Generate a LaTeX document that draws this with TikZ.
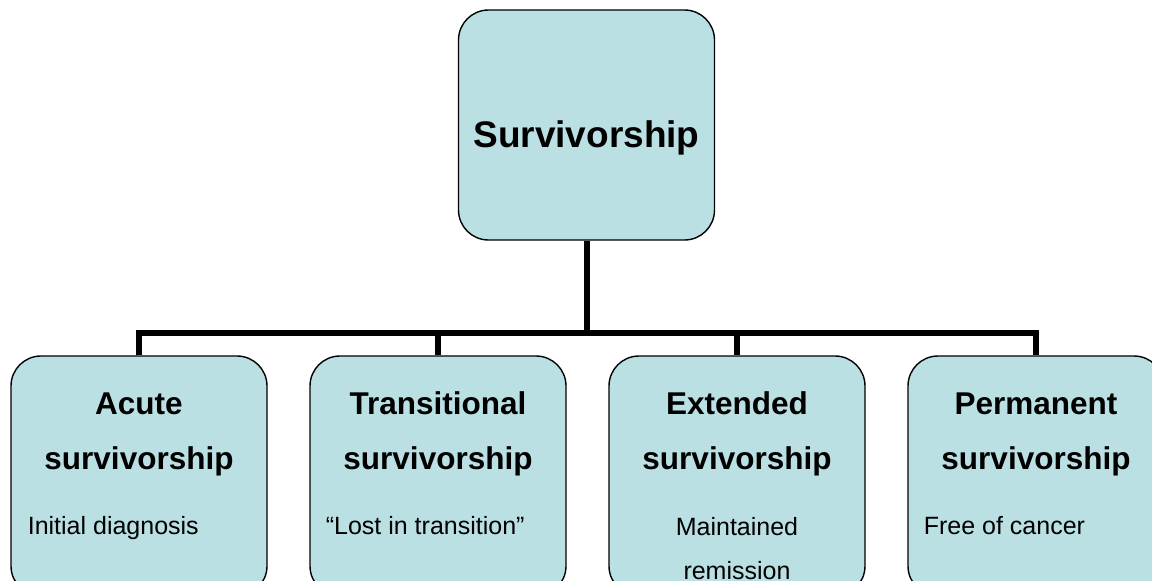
\documentclass[tikz,border=0pt]{standalone}
\usepackage{fontspec}
\setmainfont{Liberation Sans}
\usetikzlibrary{positioning}
\definecolor{boxfill}{RGB}{186,224,227}

\begin{document}
\begin{tikzpicture}[x=1pt, y=1pt,
  phase/.style = {draw, line width=1.4pt, fill=boxfill, rounded corners=30pt, minimum width=256pt, minimum height=240pt, inner sep=0pt},
  title/.style = {font=\fontsize{37}{44}\selectfont\bfseries},
  head/.style = {font=\fontsize{31.5}{55}\selectfont\bfseries, align=center, anchor=base},
  body/.style = {font=\fontsize{25}{44}\selectfont, anchor=base west},
  conn/.style = {line width=6pt},
  node distance=299pt]
\useasboundingbox (0,0) rectangle (1152,-581);
% root
\node[phase, minimum height=230pt] (surv) at (586.5,-125) {};
\node[title, anchor=base] (survT) at ([yshift=-22pt]surv.center) {Survivorship};
% the four phases
\node[phase] (acute) at (139,-476) {};
\node[phase] (trans) [right of=acute] {};
\node[phase] (ext) [right of=trans] {};
\node[phase] (perm) [right of=ext] {};
\node[head] (acuteH) at ([yshift=-114pt]acute.north) {Acute\\survivorship};
\node[head] (transH) at ([yshift=-114pt]trans.north) {Transitional\\survivorship};
\node[head] (extH) at ([yshift=-114pt]ext.north) {Extended\\survivorship};
\node[head] (permH) at ([yshift=-114pt]perm.north) {Permanent\\survivorship};
\node[body] (acuteB) at ([xshift=14pt, yshift=-179pt]acute.north west) {Initial diagnosis};
\node[body] (transB) at ([xshift=13pt, yshift=-179pt]trans.north west) {“Lost in transition”};
\node[body, anchor=base, align=center] (extB) at ([yshift=-224pt]ext.north) {Maintained\\remission};
\node[body] (permB) at ([xshift=13pt, yshift=-179pt]perm.north west) {Free of cancer};
% tree lines
\coordinate (bus) at ([yshift=-92pt]surv.south);
\draw[conn] (surv.south) -- (bus);
\draw[conn] (acute.north) |- (bus) -| (perm.north);
\draw[conn] (trans.north) -- (trans.north |- bus);
\draw[conn] (ext.north) -- (ext.north |- bus);
\end{tikzpicture}
\end{document}
